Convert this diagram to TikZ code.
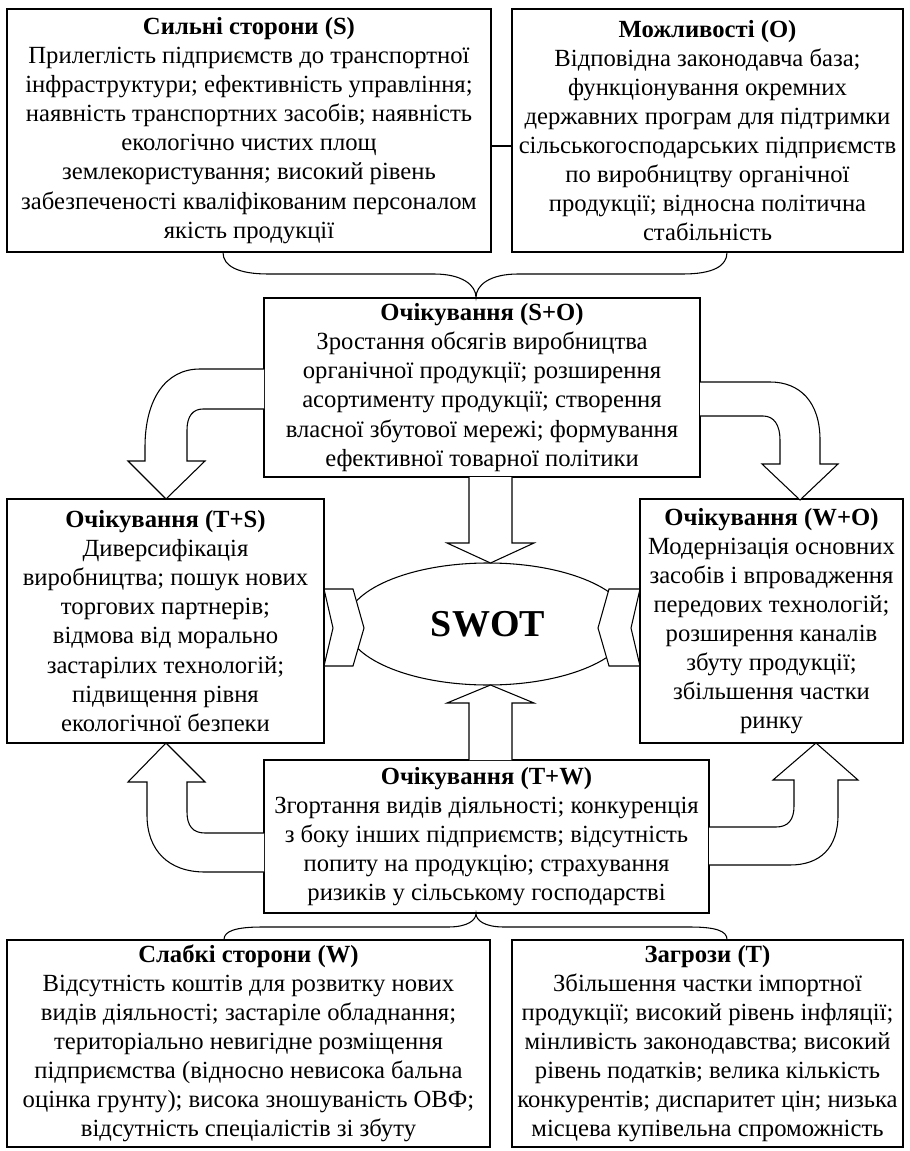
\documentclass[tikz,border=0pt]{standalone}
\usepackage{fontspec}
\setmainfont{Liberation Serif}
\usetikzlibrary{shapes.geometric}

\begin{document}
\begin{tikzpicture}[x=0.75pt,y=0.75pt,yscale=-1,xscale=1,
  box/.style={draw, line width=0.8pt, align=center, inner sep=0pt, font=\fontsize{18.5}{21.8}\selectfont},
  blk/.style={draw, line width=0.8pt, fill=white}]
\useasboundingbox (0,0) rectangle (909,1151);

%Shape: Rectangle
\node (s) [box, minimum width=363pt, minimum height=182.25pt] at (249,130.5) {\textbf{Сильні сторони (S)}\\
Прилеглість підприємств до транспортної\\
інфраструктури; ефективність управління;\\
наявність транспортних засобів; наявність\\
екологічно чистих площ\\
землекористування; високий рівень\\
забезпеченості кваліфікованим персоналом\\
якість продукції};
%Shape: Rectangle
\node (o) [box, minimum width=293.25pt, minimum height=182.25pt] at (707.5,130.5) {\textbf{Можливості (O)}\\
Відповідна законодавча база;\\
функціонування окремних\\
державних програм для підтримки\\
сільськогосподарських підприємств\\
по виробництву органічної\\
продукції; відносна політична\\
стабільність};
%Straight Lines
\draw [line width=0.8pt] (s.east |- 0,146) -- (o.west |- 0,146) ;

%Shape: Rectangle
\node (so) [box, minimum width=327pt, minimum height=134.25pt] at (482,387.5) {\textbf{Очікування (S+O)}\\
Зростання обсягів виробництва\\
органічної продукції; розширення\\
асортименту продукції; створення\\
власної збутової мережі; формування\\
ефективної товарної політики};

%Curve Lines
\draw [line width=0.8pt] (s.south -| 223,0) .. controls (223,266) and (238,274) .. (268,274) -- (434,274) .. controls (462,274) and (476,285) .. (so.north -| 476,0) .. controls (476,285) and (490,274) .. (518,274) -- (683,274) .. controls (713,274) and (727,266) .. (o.south -| 727,0) ;

%Shape: Rectangle
\node (ts) [box, minimum width=237.75pt, minimum height=183pt] at (165.5,621) {\textbf{Очікування (T+S)}\\
Диверсифікація\\
виробництва; пошук нових\\
торгових партнерів;\\
відмова від морально\\
застарілих технологій;\\
підвищення рівня\\
екологічної безпеки};
%Shape: Rectangle
\node (wo) [box, minimum width=197.25pt, minimum height=183pt] at (771.5,621) {\textbf{Очікування (W+O)}\\
Модернізація основних\\
засобів і впровадження\\
передових технологій;\\
розширення каналів\\
збуту продукції;\\
збільшення частки\\
ринку};

%Shape: Rectangle
\node (tw) [box, minimum width=333.75pt, minimum height=114.75pt] at (486.5,836.5) {\textbf{Очікування (T+W)}\\
Згортання видів діяльності; конкуренція\\
з боку інших підприємств; відсутність\\
попиту на продукцію; страхування\\
ризиків у сільському господарстві};

%Shape: Rectangle
\node (w) [box, minimum width=362.25pt, minimum height=155.25pt] at (248.5,1043.5) {\textbf{Слабкі сторони (W)}\\
Відсутність коштів для розвитку нових\\
видів діяльності; застаріле обладнання;\\
територіально невигідне розміщення\\
підприємства (відносно невисока бальна\\
оцінка грунту); висока зношуваність ОВФ;\\
відсутність спеціалістів зі збуту};
%Shape: Rectangle
\node (t) [box, minimum width=293.25pt, minimum height=155.25pt] at (707.5,1043.5) {\textbf{Загрози (T)}\\
Збільшення частки імпортної\\
продукції; високий рівень інфляції;\\
мінливість законодавства; високий\\
рівень податків; велика кількість\\
конкурентів; диспаритет цін; низька\\
місцева купівельна спроможність};

%Curve Lines
\draw [line width=0.8pt] (w.north -| 224,0) .. controls (224,931) and (236,927) .. (262,927) -- (448,927) .. controls (468,927) and (476,920) .. (tw.south -| 476,0) .. controls (476,920) and (484,927) .. (504,927) -- (690,927) .. controls (716,927) and (727,931) .. (t.north -| 727,0) ;

%Shape: Ellipse
\node (swot) [ellipse, draw, line width=0.8pt, minimum width=213pt, minimum height=91.5pt, font=\fontsize{28.5}{30}\selectfont\bfseries] at (488,624) {SWOT};

%Shape: Chevron
\draw [blk] (324,589) -- (353,589) -- (364,628) -- (353,666) -- (324,666) -- (333,628) -- cycle ;
%Shape: Chevron
\draw [blk] (640,589) -- (609,589) -- (598,628) -- (609,666) -- (640,666) -- (631,628) -- cycle ;

%Shape: Down Arrow
\draw [blk] (469,477) -- (469,543) -- (447,543) -- (490.5,563) -- (534,543) -- (512,543) -- (512,477) ;
%Shape: Up Arrow
\draw [blk] (469,760) -- (469,703) -- (447,703) -- (490.5,685) -- (534,703) -- (512,703) -- (512,760) ;

%Shape: Bent Arrow
\draw [blk] (264,369) -- (200,369) .. controls (165,369) and (145,400) .. (145,447) -- (145,461) -- (128,461) -- (166,499) -- (205,461) -- (187,461) -- (187,430) .. controls (187,416) and (193,409) .. (203,409) -- (264,409) ;
%Shape: Bent Arrow
\draw [blk] (700,416) -- (763,416) .. controls (774,416) and (780,425) .. (780,440) -- (780,464) -- (762,464) -- (800,500) -- (838,464) -- (820,464) -- (820,440) .. controls (820,402) and (800,382) .. (770,382) -- (700,382) ;
%Shape: Bent Arrow
\draw [blk] (264,872) -- (205,872) .. controls (168,872) and (147,850) .. (147,815) -- (147,782) -- (128,782) -- (166,743) -- (205,782) -- (187,782) -- (187,812) .. controls (187,826) and (193,833) .. (205,833) -- (264,833) ;
%Shape: Bent Arrow
\draw [blk] (709,827) -- (776,827) .. controls (788,827) and (794,820) .. (794,806) -- (794,780) -- (773,780) -- (816,743) -- (858,780) -- (838,780) -- (838,815) .. controls (838,848) and (820,865) .. (790,865) -- (709,865) ;

\end{tikzpicture}
\end{document}
